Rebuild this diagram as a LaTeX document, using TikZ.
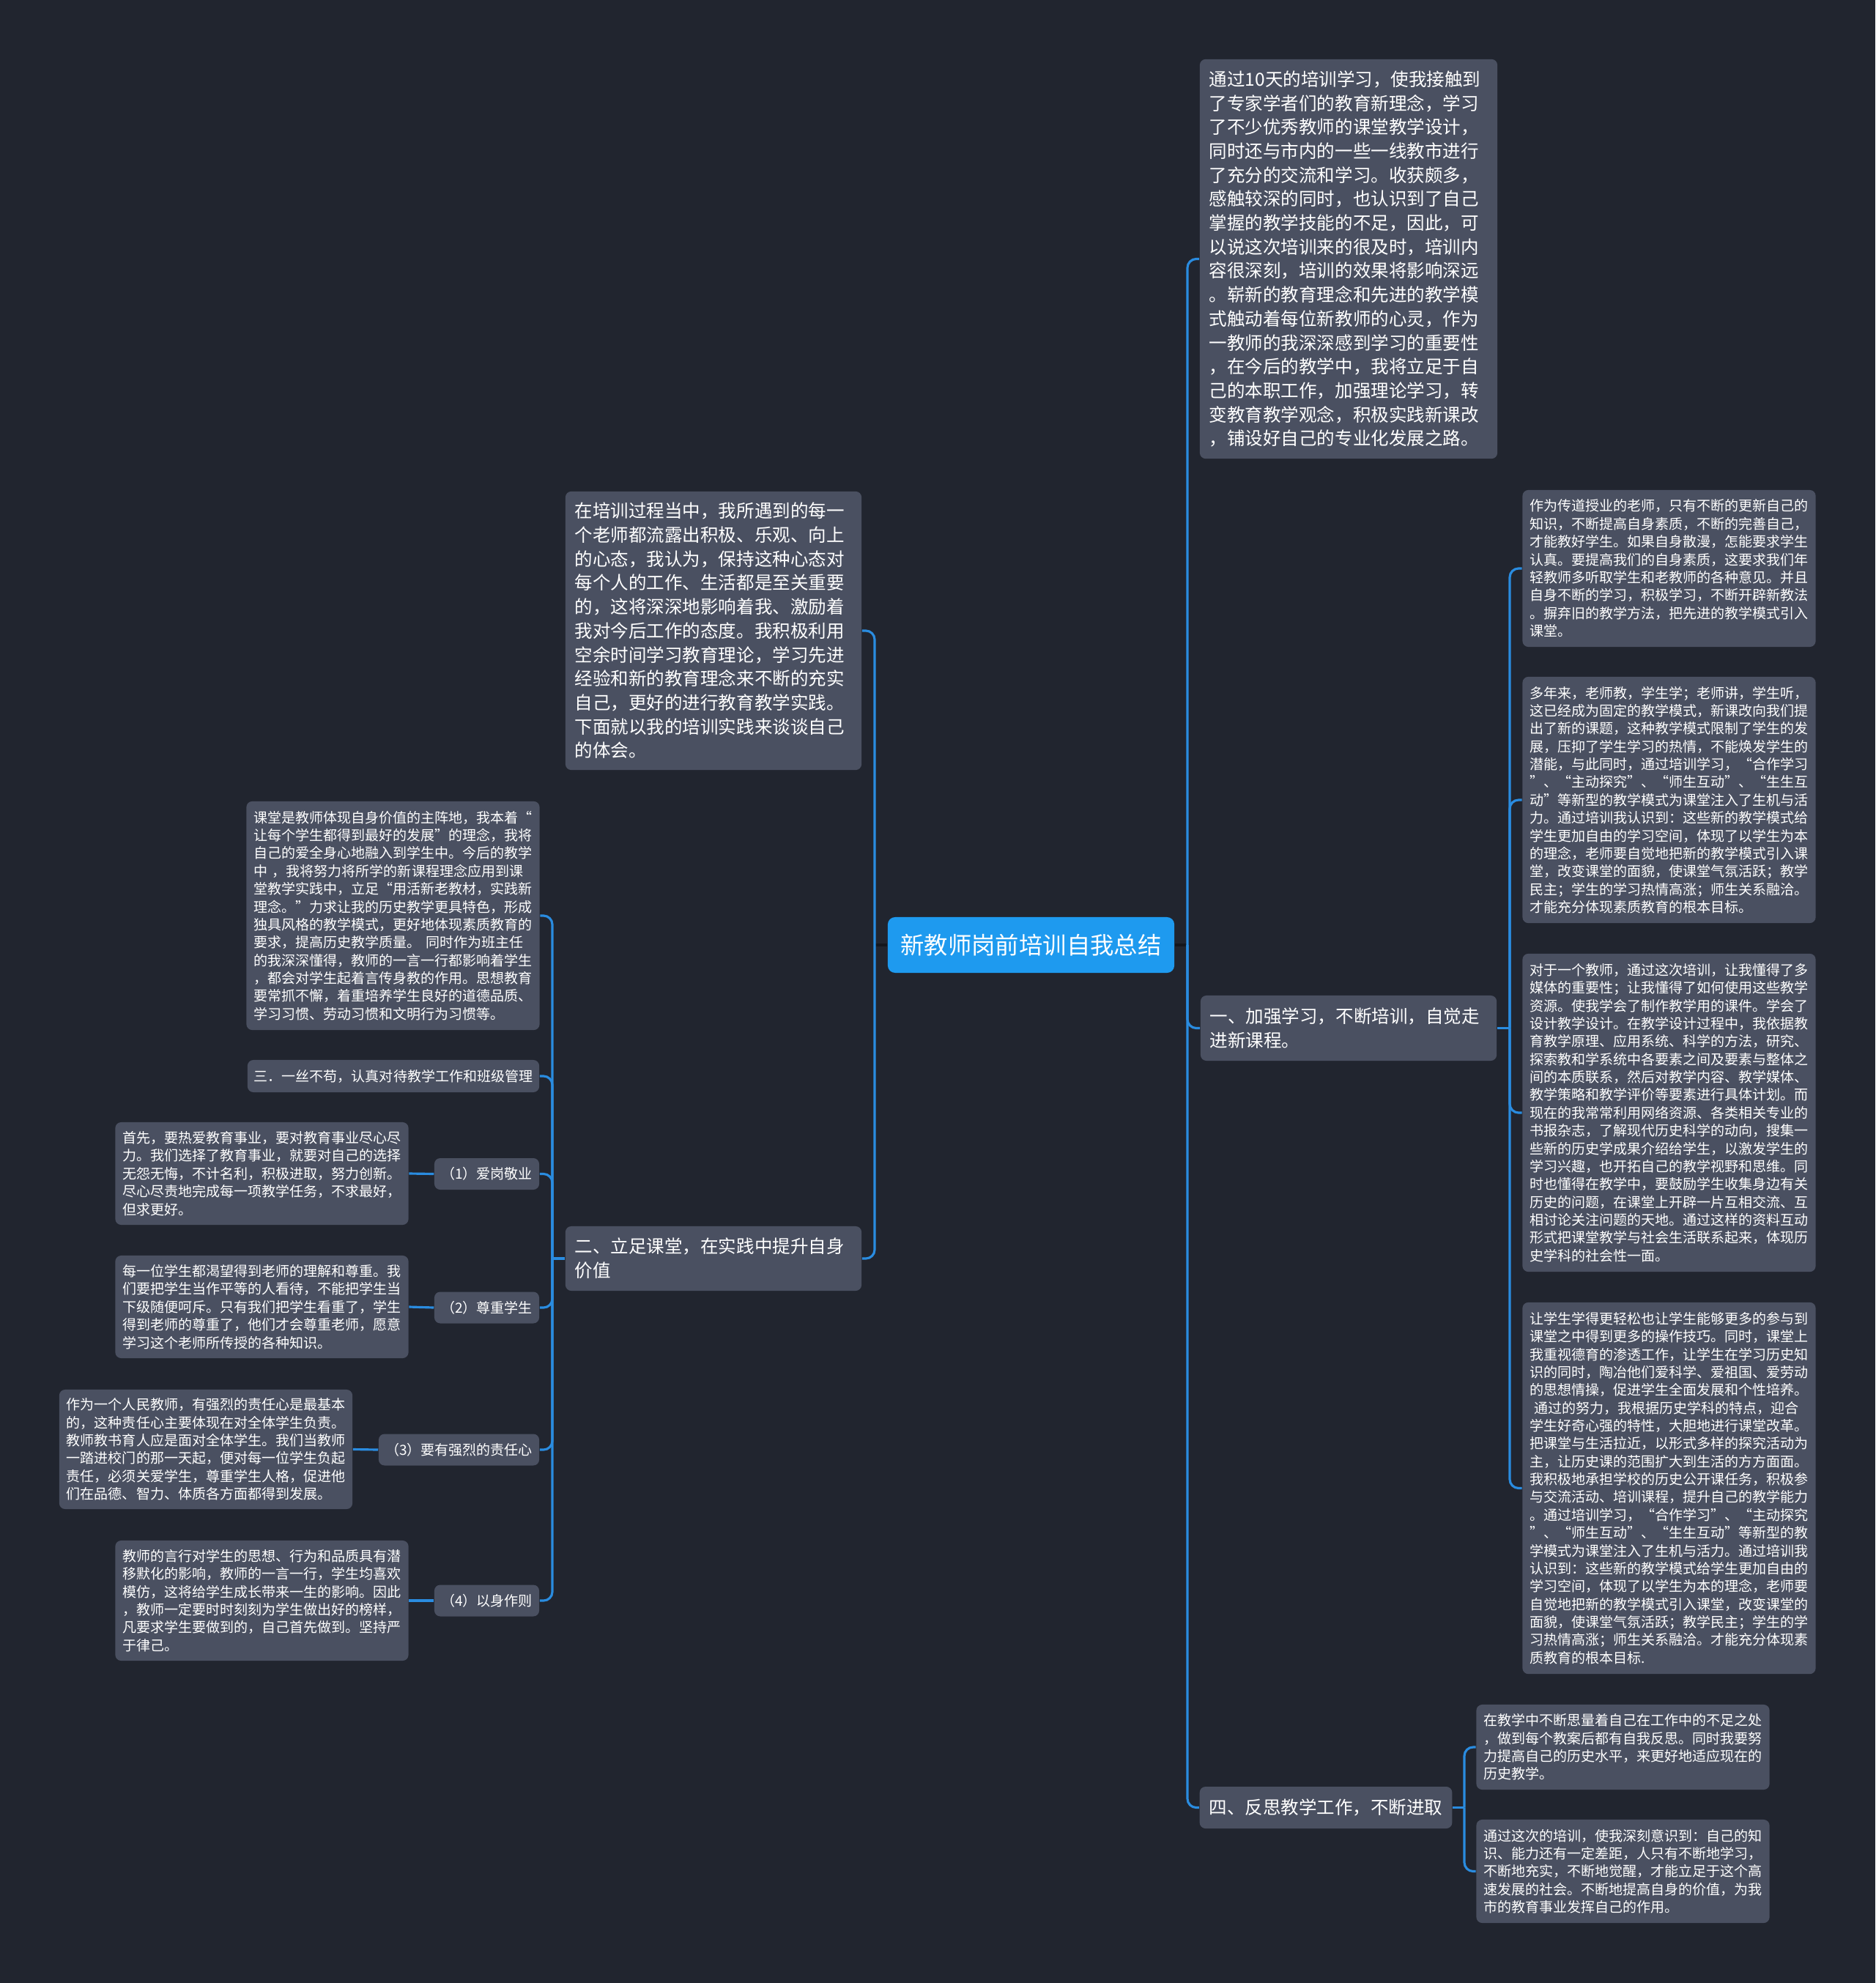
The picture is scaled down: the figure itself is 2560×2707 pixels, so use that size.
\documentclass[tikz,border=0pt]{standalone}
\usepackage{fontspec}
\setmainfont{Noto Sans CJK SC}
\usepackage{tikz}
\usetikzlibrary{positioning}

\definecolor{bgcol}{HTML}{21252F}
\definecolor{boxcol}{HTML}{4A5061}
\definecolor{rootcol}{HTML}{1E9AEF}
\definecolor{linkcol}{HTML}{2A8CE0}
\definecolor{trunkcol}{HTML}{15171D}

\newcommand\bigtxt{\fontsize{6.97pt}{9.3pt}\selectfont}
\newcommand\smalltxt{\fontsize{5.41pt}{6.93pt}\selectfont}

\begin{document}
\begin{tikzpicture}[x=0.01cm, y=-0.01cm,
  root/.style={fill=rootcol, text=white, rounded corners=0.1cm, minimum width=3.91cm,
               minimum height=0.76cm, inner sep=0pt, font=\fontsize{9.2pt}{11pt}\selectfont},
  topic/.style={fill=boxcol, text=white, rounded corners=0.08cm, align=left,
                inner xsep=0.13cm, inner ysep=0pt, font=\bigtxt},
  note/.style={fill=boxcol, text=white, rounded corners=0.08cm, align=left,
               text width=3.8cm, inner xsep=0.1cm, inner ysep=0pt, font=\smalltxt},
  tag/.style={fill=boxcol, text=white, rounded corners=0.08cm, align=center,
              inner sep=0pt, minimum height=0.43cm, font=\smalltxt},
  link/.style={draw=linkcol, line width=0.9pt, rounded corners=0.12cm},
  trunk/.style={draw=trunkcol, line width=0.9pt}]

  \fill[bgcol] (0,0) rectangle (2560,2707);
  \useasboundingbox (0,0) rectangle (2560,2707);

  % centre
  \node[root] (root) at (1407.5,1290) {新教师岗前培训自我总结};

  % right side
  \node[topic, text width=3.8cm, minimum height=5.45cm] (intro) at (1841,353.5) {%
    通过10天的培训学习，使我接触到\\了专家学者们的教育新理念，学习\\
    了不少优秀教师的课堂教学设计，\\同时还与市内的一些一线教市进行\\
    了充分的交流和学习。收获颇多，\\感触较深的同时，也认识到了自己\\
    掌握的教学技能的不足，因此，可\\以说这次培训来的很及时，培训内\\
    容很深刻，培训的效果将影响深远\\。崭新的教育理念和先进的教学模\\
    式触动着每位新教师的心灵，作为\\一教师的我深深感到学习的重要性\\
    ，在今后的教学中，我将立足于自\\己的本职工作，加强理论学习，转\\
    变教育教学观念，积极实践新课改\\，铺设好自己的专业化发展之路。};

  \node[topic, text width=3.78cm, minimum height=0.89cm, font=\fontsize{6.97pt}{9.4pt}\selectfont]
    (sec1) at (1841,1403.5) {一、加强学习，不断培训，自觉走\\进新课程。};

  \node[topic, minimum height=0.57cm] (sec4) at (1810,2467.5) {四、反思教学工作，不断进取};

  \node[note, minimum height=2.14cm] (r1) at (2278.5,776) {%
    作为传道授业的老师，只有不断的更新自己的\\知识，不断提高自身素质，不断的完善自己，\\
    才能教好学生。如果自身散漫，怎能要求学生\\认真。要提高我们的自身素质，这要求我们年\\
    轻教师多听取学生和老教师的各种意见。并且\\自身不断的学习，积极学习，不断开辟新教法\\
    。摒弃旧的教学方法，把先进的教学模式引入\\课堂。};

  \node[note, minimum height=3.36cm] (r2) at (2278.5,1092) {%
    多年来，老师教，学生学；老师讲，学生听，\\这已经成为固定的教学模式，新课改向我们提\\
    出了新的课题，这种教学模式限制了学生的发\\展，压抑了学生学习的热情，不能焕发学生的\\
    潜能，与此同时，通过培训学习，“合作学习\\”、“主动探究”、“师生互动”、“生生互\\
    动”等新型的教学模式为课堂注入了生机与活\\力。通过培训我认识到：这些新的教学模式给\\
    学生更加自由的学习空间，体现了以学生为本\\的理念，老师要自觉地把新的教学模式引入课\\
    堂，改变课堂的面貌，使课堂气氛活跃；教学\\民主；学生的学习热情高涨；师生关系融洽。\\
    才能充分体现素质教育的根本目标。};

  \node[note, minimum height=4.34cm] (r3) at (2278.5,1519) {%
    对于一个教师，通过这次培训，让我懂得了多\\媒体的重要性；让我懂得了如何使用这些教学\\
    资源。使我学会了制作教学用的课件。学会了\\设计教学设计。在教学设计过程中，我依据教\\
    育教学原理、应用系统、科学的方法，研究、\\探索教和学系统中各要素之间及要素与整体之\\
    间的本质联系，然后对教学内容、教学媒体、\\教学策略和教学评价等要素进行具体计划。而\\
    现在的我常常利用网络资源、各类相关专业的\\书报杂志，了解现代历史科学的动向，搜集一\\
    些新的历史学成果介绍给学生，以激发学生的\\学习兴趣，也开拓自己的教学视野和思维。同\\
    时也懂得在教学中，要鼓励学生收集身边有关\\历史的问题，在课堂上开辟一片互相交流、互\\
    相讨论关注问题的天地。通过这样的资料互动\\形式把课堂教学与社会生活联系起来，体现历\\
    史学科的社会性一面。};

  \node[note, minimum height=5.07cm] (r4) at (2278.5,2031.5) {%
    让学生学得更轻松也让学生能够更多的参与到\\课堂之中得到更多的操作技巧。同时，课堂上\\
    我重视德育的渗透工作，让学生在学习历史知\\识的同时，陶冶他们爱科学、爱祖国、爱劳动\\
    的思想情操，促进学生全面发展和个性培养。\\\hspace*{0.3em}通过的努力，我根据历史学科的特点，迎合\\
    学生好奇心强的特性，大胆地进行课堂改革。\\把课堂与生活拉近，以形式多样的探究活动为\\
    主，让历史课的范围扩大到生活的方方面面。\\我积极地承担学校的历史公开课任务，积极参\\
    与交流活动、培训课程，提升自己的教学能力\\。通过培训学习，“合作学习”、“主动探究\\
    ”、“师生互动”、“生生互动”等新型的教\\学模式为课堂注入了生机与活力。通过培训我\\
    认识到：这些新的教学模式给学生更加自由的\\学习空间，体现了以学生为本的理念，老师要\\
    自觉地把新的教学模式引入课堂，改变课堂的\\面貌，使课堂气氛活跃；教学民主；学生的学\\
    习热情高涨；师生关系融洽。才能充分体现素\\质教育的根本目标.};

  \node[note, minimum height=1.16cm] (r5) at (2215.5,2385) {%
    在教学中不断思量着自己在工作中的不足之处\\，做到每个教案后都有自我反思。同时我要努\\
    力提高自己的历史水平，来更好地适应现在的\\历史教学。};

  \node[note, minimum height=1.41cm] (r6) at (2215.5,2554.5) {%
    通过这次的培训，使我深刻意识到：自己的知\\识、能力还有一定差距，人只有不断地学习，\\
    不断地充实，不断地觉醒，才能立足于这个高\\速发展的社会。不断地提高自身的价值，为我\\
    市的教育事业发挥自己的作用。};

  % left side
  \node[topic, text width=3.78cm, minimum height=3.8cm] (body) at (974,861) {%
    在培训过程当中，我所遇到的每一\\个老师都流露出积极、乐观、向上\\
    的心态，我认为，保持这种心态对\\每个人的工作、生活都是至关重要\\
    的，这将深深地影响着我、激励着\\我对今后工作的态度。我积极利用\\
    空余时间学习教育理论，学习先进\\经验和新的教育理念来不断的充实\\
    自己，更好的进行教育教学实践。\\下面就以我的培训实践来谈谈自己\\
    的体会。};

  \node[topic, text width=3.78cm, minimum height=0.88cm, font=\fontsize{6.97pt}{9.4pt}\selectfont]
    (sec2) at (974,1718) {二、立足课堂，在实践中提升自身\\价值};

  \node[note, minimum height=3.12cm] (l1) at (536.5,1250) {%
    课堂是教师体现自身价值的主阵地，我本着“\\让每个学生都得到最好的发展”的理念，我将\\
    自己的爱全身心地融入到学生中。今后的教学\\中 ，我将努力将所学的新课程理念应用到课\\
    堂教学实践中，立足“用活新老教材，实践新\\理念。”力求让我的历史教学更具特色，形成\\
    独具风格的教学模式，更好地体现素质教育的\\要求，提高历史教学质量。 同时作为班主任\\
    的我深深懂得，教师的一言一行都影响着学生\\，都会对学生起着言传身教的作用。思想教育\\
    要常抓不懈，着重培养学生良好的道德品质、\\学习习惯、劳动习惯和文明行为习惯等。};

  \node[tag, minimum width=3.98cm, minimum height=0.44cm] (l2) at (537,1469)
    {三．一丝不苟，认真对待教学工作和班级管理};

  \node[tag, minimum width=1.43cm] (p1) at (664.5,1602.5) {（1）爱岗敬业};
  \node[tag, minimum width=1.43cm] (p2) at (664.5,1785) {（2）尊重学生};
  \node[tag, minimum width=2.19cm] (p3) at (626.5,1979) {（3）要有强烈的责任心};
  \node[tag, minimum width=1.43cm] (p4) at (664.5,2185) {（4）以身作则};

  \node[note, minimum height=1.4cm] (d1) at (357.5,1602) {%
    首先，要热爱教育事业，要对教育事业尽心尽\\力。我们选择了教育事业，就要对自己的选择\\
    无怨无悔，不计名利，积极进取，努力创新。\\尽心尽责地完成每一项教学任务，不求最好，\\
    但求更好。};

  \node[note, minimum height=1.4cm] (d2) at (357.5,1784) {%
    每一位学生都渴望得到老师的理解和尊重。我\\们要把学生当作平等的人看待，不能把学生当\\
    下级随便呵斥。只有我们把学生看重了，学生\\得到老师的尊重了，他们才会尊重老师，愿意\\
    学习这个老师所传授的各种知识。};

  \node[note, minimum height=1.63cm] (d3) at (281,1978.5) {%
    作为一个人民教师，有强烈的责任心是最基本\\的，这种责任心主要体现在对全体学生负责。\\
    教师教书育人应是面对全体学生。我们当教师\\一踏进校门的那一天起，便对每一位学生负起\\
    责任，必须关爱学生，尊重学生人格，促进他\\们在品德、智力、体质各方面都得到发展。};

  \node[note, minimum height=1.64cm] (d4) at (357.5,2185) {%
    教师的言行对学生的思想、行为和品质具有潜\\移默化的影响，教师的一言一行，学生均喜欢\\
    模仿，这将给学生成长带来一生的影响。因此\\，教师一定要时时刻刻为学生做出好的榜样，\\
    凡要求学生要做到的，自己首先做到。坚持严\\于律己。};

  % bus lines
  \coordinate (rbus) at (1621,0);
  \coordinate (lbus) at (1194,0);
  \coordinate (bus1) at (2061,0);
  \coordinate (bus4) at (1999,0);
  \coordinate (bus2) at (754,0);

  \draw[trunk] (root.east) -- (rbus |- root.east);
  \draw[trunk] (root.west) -- (lbus |- root.west);
  \foreach \n in {intro,sec1,sec4}
    \draw[link] (rbus |- root.east) |- (\n.west);
  \foreach \n in {body,sec2}
    \draw[link] (lbus |- root.west) |- (\n.east);

  \draw[link] (sec1.east) -- (bus1 |- sec1.east);
  \foreach \n in {r1,r2,r3,r4}
    \draw[link] (bus1 |- sec1.east) |- (\n.west);

  \draw[link] (sec4.east) -- (bus4 |- sec4.east);
  \foreach \n in {r5,r6}
    \draw[link] (bus4 |- sec4.east) |- (\n.west);

  \draw[link] (sec2.west) -- (bus2 |- sec2.west);
  \foreach \n in {l1,l2,p1,p2,p3,p4}
    \draw[link] (bus2 |- sec2.west) |- (\n.east);

  \foreach \a/\b in {p1/d1,p2/d2,p3/d3,p4/d4}
    \draw[link] (\a.west) -- (\b.east);
\end{tikzpicture}
\end{document}
